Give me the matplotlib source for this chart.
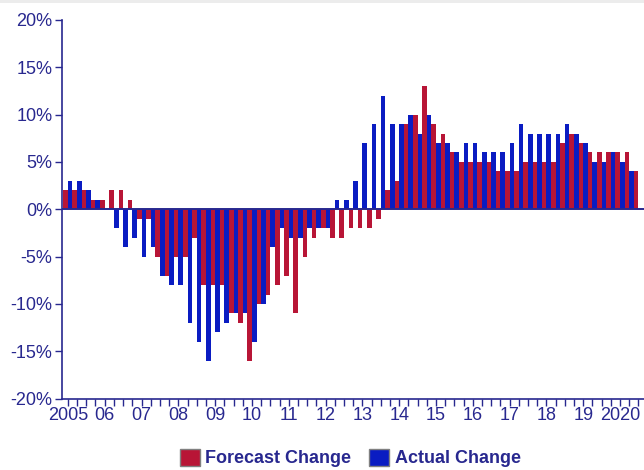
import numpy as np
import matplotlib
matplotlib.use("Agg")
import matplotlib.pyplot as plt
from matplotlib.patches import Patch, Rectangle

# Quarterly % change, 2005 Q1 .. 2020 Q3 (actual not yet in for the last quarter)
forecast = [2, 2, 2, 1, 1, 2, 2, 1, -1, -1,
            -5, -7, -5, -5, -3, -8, -8, -8, -11, -12,
            -16, -10, -9, -8, -7, -11, -5, -3, -2, -3,
            -3, -2, -2, -2, -1, 2, 3, 9, 10, 13,
            9, 8, 6, 5, 5, 5, 5, 4, 4, 4,
            5, 5, 5, 5, 7, 8, 7, 6, 6, 6,
            6, 6, 4]
actual = [3, 3, 2, 1, 0, -2, -4, -3, -5, -4,
          -7, -8, -8, -12, -14, -16, -13, -12, -11, -11,
          -14, -10, -4, -2, -3, -3, -2, -2, -2, 1,
          1, 3, 7, 9, 12, 9, 9, 10, 8, 10,
          7, 7, 6, 7, 7, 6, 6, 6, 7, 9,
          8, 8, 8, 8, 9, 8, 7, 5, 5, 6,
          5, 4]
year_labels = ["2005", "06", "07", "08", "09", "10", "11", "12", "13",
               "14", "15", "16", "17", "18", "19", "2020"]
y_ticks = [-20, -15, -10, -5, 0, 5, 10, 15, 20]

RED = "#b81536"
BLUE = "#0a1cc2"
NAVY = "#28288f"

plt.rcParams["font.family"] = ["Liberation Sans", "DejaVu Sans"]

fig = plt.figure(figsize=(6.44, 4.70), dpi=100)
ax = fig.add_axes([62 / 644, 1 - 398.7 / 470, 1 - 62 / 644, (398.7 - 19.9) / 470])

q = np.arange(len(forecast))
ax.bar(q - 0.25, forecast, width=0.5, color=RED, linewidth=0, zorder=2)
ax.bar(q[:len(actual)] + 0.25, actual, width=0.5, color=BLUE, linewidth=0, zorder=2)
ax.axhline(0, color=NAVY, lw=1.4, zorder=3)

ax.set_xlim(-0.64, 62.6)
ax.set_ylim(-20, 20)

# quarterly ticks, year label on each Q1
ax.set_xticks(q)
ax.set_xticklabels([year_labels[i // 4] if i % 4 == 0 else "" for i in q])
ax.set_yticks(y_ticks)
ax.set_yticklabels([f"{v}%" for v in y_ticks])
ax.tick_params(axis="x", direction="out", length=5, width=1, color=NAVY,
               labelcolor=NAVY, labelsize=13, pad=1)
ax.tick_params(axis="y", direction="out", length=5, width=1, color=NAVY,
               labelcolor=NAVY, labelsize=13, pad=2)

for side in ("top", "right"):
    ax.spines[side].set_visible(False)
for side in ("left", "bottom"):
    ax.spines[side].set_color(NAVY)
    ax.spines[side].set_linewidth(1.2)

handles = [Patch(facecolor=RED, edgecolor="#808080", lw=1, label="Forecast Change"),
           Patch(facecolor=BLUE, edgecolor="#808080", lw=1, label="Actual Change")]
leg = fig.legend(handles=handles, loc="center", bbox_to_anchor=(0.544, 1 - 458 / 470),
                 ncol=2, frameon=False, handlelength=1.1, handleheight=1.1,
                 handletextpad=0.3, columnspacing=1.0,
                 prop={"weight": "bold", "size": 13})
for t in leg.get_texts():
    t.set_color(NAVY)

# light strip along the top edge
fig.add_artist(Rectangle((0, 1 - 3 / 470), 1, 3 / 470, transform=fig.transFigure,
                         facecolor="#ececec", edgecolor="none"))

fig.savefig("out.png", dpi=100)
